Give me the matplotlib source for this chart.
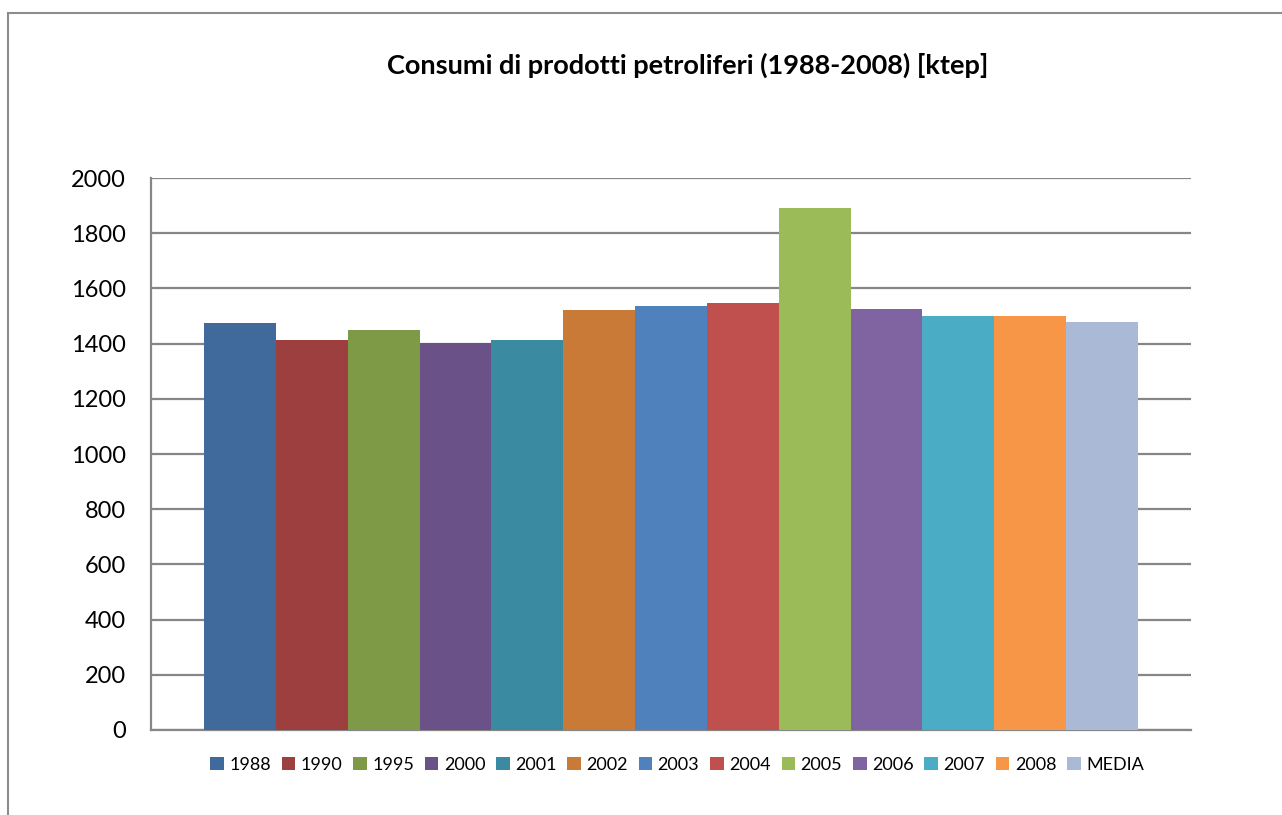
import matplotlib
matplotlib.use("Agg")
import matplotlib.pyplot as plt
from matplotlib.patches import Rectangle

# values
labels = ["1988", "1990", "1995", "2000", "2001", "2002", "2003",
          "2004", "2005", "2006", "2007", "2008", "MEDIA"]
values = [1474, 1413, 1449, 1401, 1413, 1522, 1536,
          1547, 1891, 1525, 1500, 1500, 1478]
colors = ["#406a9c", "#9e3f3f", "#7f9a47", "#6a5289", "#3a8ba2", "#c97a37",
          "#4f81bd", "#c0504d", "#9bbb59", "#8064a2", "#4bacc6", "#f79646",
          "#a9b9d6"]
yticks = [0, 200, 400, 600, 800, 1000, 1200, 1400, 1600, 1800, 2000]

plt.rcParams["font.family"] = ["Lato", "DejaVu Sans"]

W, H = 1282, 815
fig = plt.figure(figsize=(W / 100, H / 100), dpi=100)

# chart border (runs off right and bottom edge)
fig.patches.append(Rectangle((8 / W, -0.1), 1.2, 1 - 13 / H + 0.1,
                             transform=fig.transFigure, fill=False,
                             edgecolor="#8c8c8c", linewidth=1.5))

ax = fig.add_axes([151 / W, 1 - 730 / H, 1040 / W, 552 / H])
handles = []
for i, (lab, v, c) in enumerate(zip(labels, values, colors)):
    h = ax.bar(i, v, width=1.0, color=c, label=lab, zorder=3)
    handles.append(h)

gap = 0.74
ax.set_xlim(-0.5 - gap, len(labels) - 0.5 + gap)
ax.set_ylim(0, 2000)
ax.set_yticks(yticks)
ax.set_xticks([])
ax.tick_params(axis="y", length=0, labelsize=17, pad=18)
ax.grid(axis="y", color="#868686", linewidth=1.6, zorder=0)
for s in ["top", "right"]:
    ax.spines[s].set_visible(False)
for s in ["left", "bottom"]:
    ax.spines[s].set_color("#868686")
    ax.spines[s].set_linewidth(1.6)

fig.text(688 / W, 1 - 65 / H, "Consumi di prodotti petroliferi (1988-2008) [ktep]",
         ha="center", va="center", fontsize=19.5, fontweight="bold")

fig.legend(handles=handles, labels=labels, loc="center",
           bbox_to_anchor=(677 / W, 1 - 765 / H), ncol=len(labels),
           frameon=False, fontsize=13, handlelength=0.75, handleheight=0.75,
           handletextpad=0.3, columnspacing=0.6)

fig.savefig("out.png", dpi=100)
